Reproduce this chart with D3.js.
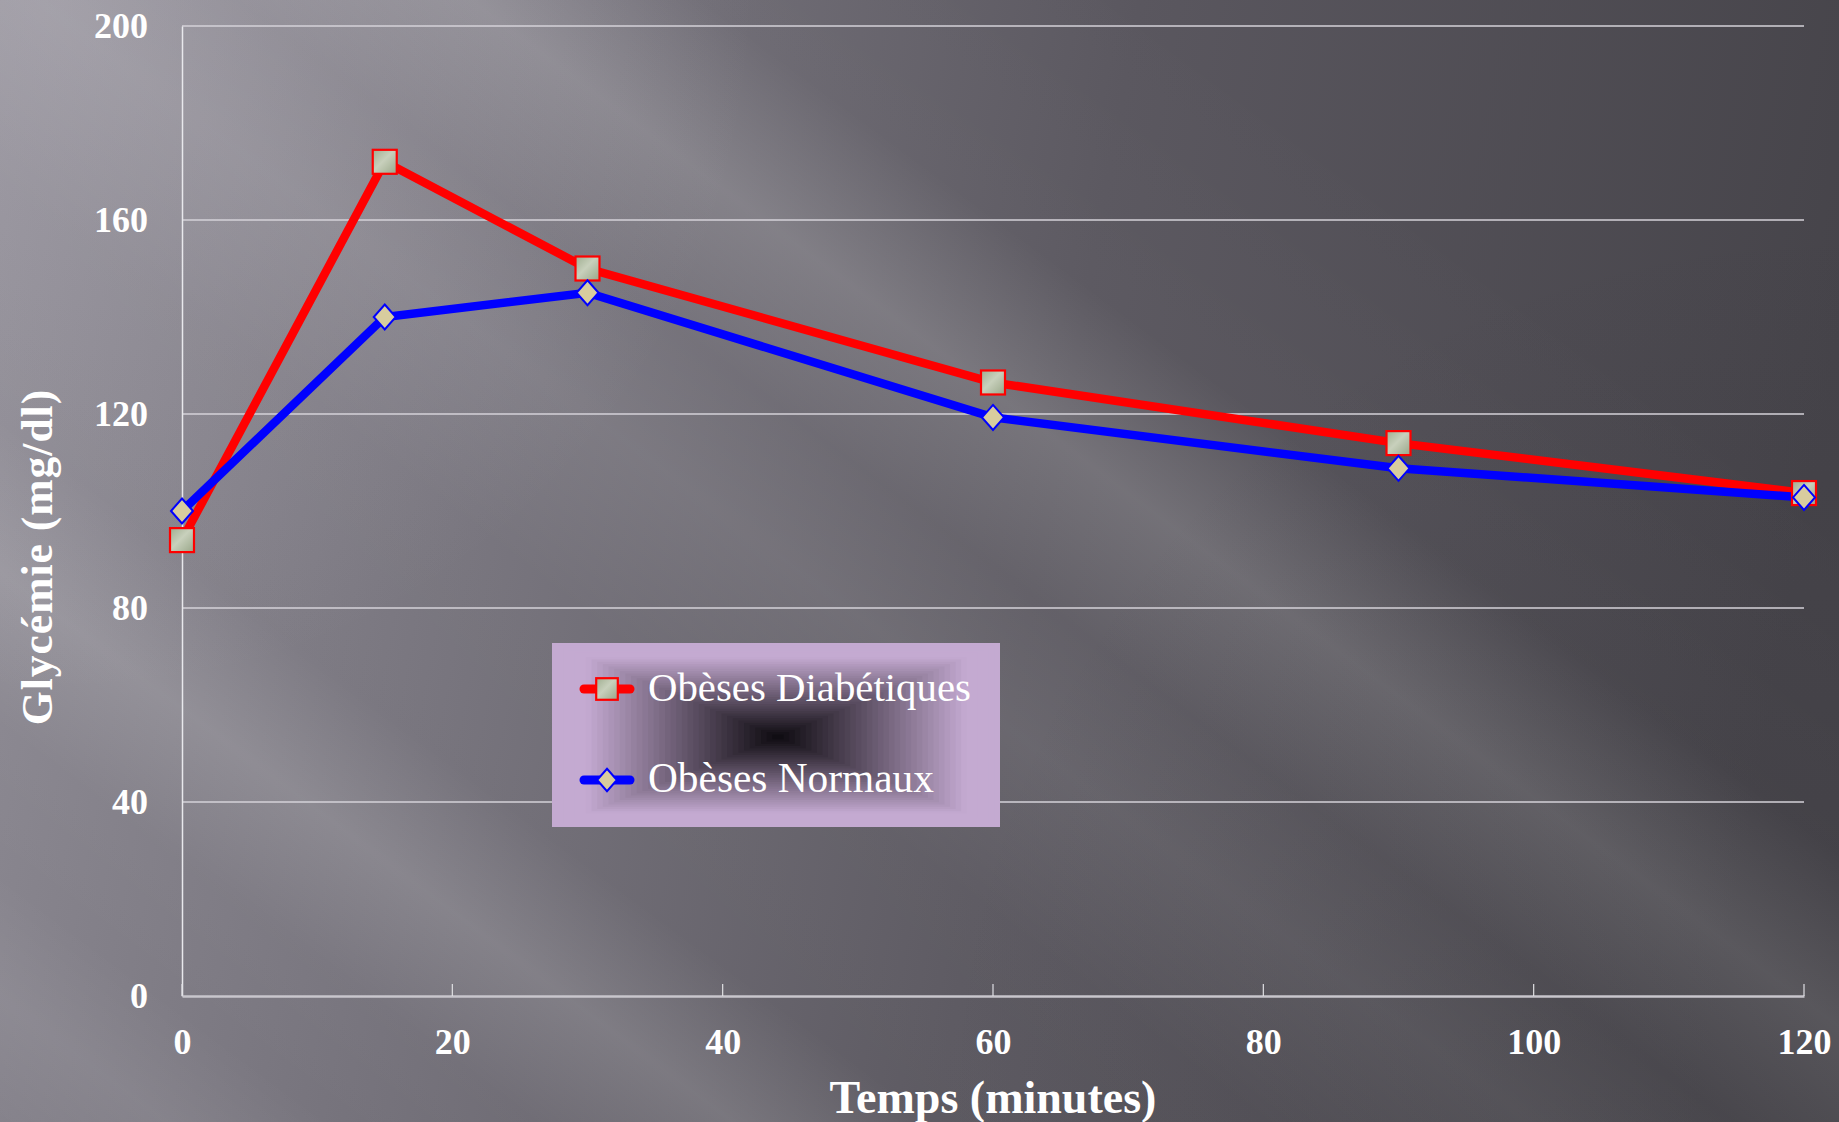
<!DOCTYPE html>
<html><head><meta charset="utf-8">
<script src="https://cdn.jsdelivr.net/npm/d3@7"></script>
<style>html,body{margin:0;padding:0;background:#5a575e;}svg{display:block;}</style>
</head><body>
<svg id="c" width="1839" height="1122"></svg>
<script>
const times = [0, 15, 30, 60, 90, 120];
const diabetiques = [94, 172, 150, 126.5, 114, 103.7];
const normaux = [100, 140, 145, 119.3, 108.8, 102.8];
const seriesNames = ["Obèses Diabétiques", "Obèses Normaux"];
const xTicks = [0, 20, 40, 60, 80, 100, 120];
const yTicks = [0, 40, 80, 120, 160, 200];
const xTitle = "Temps (minutes)";
const yTitle = "Glycémie (mg/dl)";

const W = 1839, H = 1122;
const M = {left: 182, right: 1804, top: 26, bottom: 996};
const FONT = "'Palatino Linotype','Book Antiqua',Palatino,'Liberation Serif',serif";

const svg = d3.select("#c");
const defs = svg.append("defs");

// Background gradients
const bg = defs.append("linearGradient").attr("id","bgBase").attr("gradientUnits","userSpaceOnUse")
  .attr("x1",0).attr("y1",0).attr("x2",W).attr("y2",H*0.3);
[[0,"#8f8c95"],[0.3,"#75727b"],[0.6,"#5a575f"],[1,"#46444a"]].forEach(s=>bg.append("stop").attr("offset",s[0]).attr("stop-color",s[1]));

const bands = defs.append("linearGradient").attr("id","bgBands").attr("gradientUnits","userSpaceOnUse")
  .attr("x1",0).attr("y1",H).attr("x2",1200).attr("y2",H-1600);
[[0,0],[0.05,0.06],[0.1,0.0],[0.16,0.02],[0.22,0.14],[0.28,0.02],[0.38,0.03],[0.46,0.1],[0.52,0.06],[0.59,0.17],[0.66,0.02],[0.8,0],[1,0]]
  .forEach(s=>bands.append("stop").attr("offset",s[0]).attr("stop-color","#ffffff").attr("stop-opacity",s[1]));

const corner = defs.append("radialGradient").attr("id","bgCorner").attr("gradientUnits","userSpaceOnUse")
  .attr("cx",60).attr("cy",0).attr("r",700);
[[0,0.22],[0.5,0.1],[1,0]].forEach(s=>corner.append("stop").attr("offset",s[0]).attr("stop-color","#d0ccd6").attr("stop-opacity",s[1]));

const darkR = defs.append("radialGradient").attr("id","bgDark").attr("gradientUnits","userSpaceOnUse")
  .attr("cx",W).attr("cy",H).attr("r",900);
[[0,0.25],[1,0]].forEach(s=>darkR.append("stop").attr("offset",s[0]).attr("stop-color","#2a282e").attr("stop-opacity",s[1]));

svg.append("rect").attr("width",W).attr("height",H).attr("fill","url(#bgBase)");
svg.append("rect").attr("width",W).attr("height",H).attr("fill","url(#bgBands)");
svg.append("rect").attr("width",W).attr("height",H).attr("fill","url(#bgCorner)");
svg.append("rect").attr("width",W).attr("height",H).attr("fill","url(#bgDark)");

// Scales
const x = d3.scaleLinear().domain([0,120]).range([M.left, M.right]);
const y = d3.scaleLinear().domain([0,200]).range([M.bottom, M.top]);

// Gridlines
svg.append("g").selectAll("line").data(yTicks.filter(d=>d>0)).join("line")
  .attr("x1",M.left).attr("x2",M.right).attr("y1",d=>y(d)).attr("y2",d=>y(d))
  .attr("stroke","#d4d2d8").attr("stroke-width",1.5);

// Y axis
const yAxis = svg.append("g").attr("transform",`translate(${M.left},0)`)
  .call(d3.axisLeft(y).tickValues(yTicks).tickSize(0).tickPadding(34));
yAxis.select(".domain").attr("stroke","#e8e8ec").attr("stroke-width",1.5);
yAxis.selectAll("text").attr("fill","#ffffff").attr("font-family",FONT).attr("font-weight","bold").attr("font-size",36);

// X axis
const xAxis = svg.append("g").attr("transform",`translate(0,${M.bottom})`)
  .call(d3.axisBottom(x).tickValues(xTicks).tickSize(0).tickPadding(32));
xAxis.select(".domain").attr("stroke","#c8c6cc").attr("stroke-width",2.5);
xAxis.selectAll("text").attr("fill","#ffffff").attr("font-family",FONT).attr("font-weight","bold").attr("font-size",36);
svg.append("g").selectAll("line").data(xTicks).join("line")
  .attr("x1",d=>x(d)).attr("x2",d=>x(d)).attr("y1",M.bottom-12).attr("y2",M.bottom)
  .attr("stroke","#e0e0e4").attr("stroke-width",1.2);

// Titles
function fit(sel, target){
  const len = sel.node().getComputedTextLength();
  const fs = parseFloat(sel.attr("font-size"));
  sel.attr("font-size", fs*target/len);
}
const yt = svg.append("text").text(yTitle)
  .attr("transform","translate(52,557) rotate(-90)").attr("text-anchor","middle")
  .attr("fill","#ffffff").attr("font-family",FONT).attr("font-weight","bold").attr("font-size",40)
  .attr("letter-spacing",1);
fit(yt, 338);
const xt = svg.append("text").text(xTitle)
  .attr("x",993).attr("y",1113).attr("text-anchor","middle")
  .attr("fill","#ffffff").attr("font-family",FONT).attr("font-weight","bold").attr("font-size",40);
fit(xt, 327);

// Marker gradients
const sq = defs.append("linearGradient").attr("id","sqFill").attr("x1",0).attr("y1",0).attr("x2",1).attr("y2",1);
[[0,"#9fae90"],[0.45,"#c8d0bc"],[1,"#98a688"]].forEach(s=>sq.append("stop").attr("offset",s[0]).attr("stop-color",s[1]));

// Lines
const line = d3.line().x((d,i)=>x(times[i])).y(d=>y(d));
const series = [
  {name: seriesNames[0], values: diabetiques, color: "#ff0000", shape: "square"},
  {name: seriesNames[1], values: normaux, color: "#0000ff", shape: "diamond"}
];
series.forEach(s=>{
  svg.append("path").datum(s.values).attr("d",line).attr("fill","none")
    .attr("stroke",s.color).attr("stroke-width",8.5).attr("stroke-linejoin","miter");
});
function drawMarker(g, shape, cx, cy, k){
  k = k || 1;
  if(shape==="square"){
    g.append("rect").attr("x",cx-12*k).attr("y",cy-12*k).attr("width",24*k).attr("height",24*k)
      .attr("fill","url(#sqFill)").attr("stroke","#ff0000").attr("stroke-width",2.2);
  } else {
    g.append("path").attr("d",`M${cx},${cy-12.5*k}L${cx+11*k},${cy}L${cx},${cy+12.5*k}L${cx-11*k},${cy}Z`)
      .attr("fill","#d8cc9e").attr("stroke","#0000ff").attr("stroke-width",2);
  }
}
series.forEach(s=>{
  const g = svg.append("g");
  s.values.forEach((v,i)=>drawMarker(g, s.shape, x(times[i]), y(v)));
});

// Legend: rectangular (box) gradient drawn as stepped nested rectangles
const L = {x:552, y:643, w:448, h:184};
const C = {x:778, y:737};
const legG = svg.append("g");
const col = d3.interpolateRgb("#0c090e", "#c4aad1");
const N = 40;
legG.append("rect").attr("x",L.x).attr("y",L.y).attr("width",L.w).attr("height",L.h).attr("fill","#c4aad1");
for(let i=0;i<N;i++){
  const r = 1 - i/N;
  const x0 = C.x + (L.x - C.x)*r, x1 = C.x + (L.x+L.w - C.x)*r;
  const y0 = C.y + (L.y - C.y)*r, y1 = C.y + (L.y+L.h - C.y)*r;
  const t = Math.min(1, Math.pow(r/0.86, 1.05));
  legG.append("rect").attr("x",x0).attr("y",y0).attr("width",x1-x0).attr("height",y1-y0).attr("fill",col(t));
}
const rowsY = [689, 780];
series.forEach((s,i)=>{
  const g = svg.append("g");
  g.append("line").attr("x1",584).attr("x2",630).attr("y1",rowsY[i]).attr("y2",rowsY[i])
    .attr("stroke",s.color).attr("stroke-width",9).attr("stroke-linecap","round");
  drawMarker(g, s.shape, 607, rowsY[i], 0.9);
  const t = g.append("text").text(s.name).attr("x",648).attr("y",rowsY[i]+12)
    .attr("fill","#ffffff").attr("font-family",FONT).attr("font-size",38);
  fit(t, i===0 ? 323 : 286);
});
</script>
</body></html>
